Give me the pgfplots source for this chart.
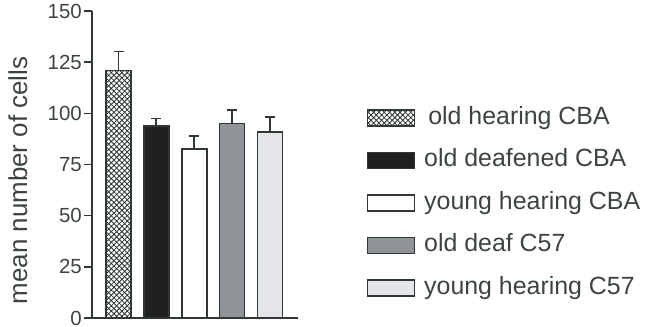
\documentclass[border=0pt]{standalone}
\usepackage{fontspec}
\setmainfont{Liberation Sans}
\usepackage{pgfplots}
\pgfplotsset{compat=1.18}
\usetikzlibrary{patterns}

\definecolor{txt}{RGB}{60,68,66}
\definecolor{edge}{RGB}{48,56,54}
\definecolor{darkbar}{RGB}{32,32,32}
\definecolor{midbar}{RGB}{143,148,153}
\definecolor{lightbar}{RGB}{228,229,233}

% diagonal cross-hatch with a 5.3bp period
\pgfdeclarepatternformonly{xhatch}{\pgfqpoint{-0.5bp}{-0.5bp}}{\pgfqpoint{5.8bp}{5.8bp}}{\pgfqpoint{5.3bp}{5.3bp}}{%
  \pgfsetlinewidth{0.8bp}%
  \pgfpathmoveto{\pgfqpoint{-0.5bp}{-0.5bp}}\pgfpathlineto{\pgfqpoint{5.8bp}{5.8bp}}%
  \pgfpathmoveto{\pgfqpoint{-0.5bp}{5.8bp}}\pgfpathlineto{\pgfqpoint{5.8bp}{-0.5bp}}%
  \pgfusepath{stroke}}

\begin{document}
\begin{tikzpicture}
\path[use as bounding box] (-92bp,-9bp) rectangle (555bp,318bp);
\begin{axis}[
  scale only axis,
  width=206bp, height=307bp,
  xmin=0.30, xmax=5.74,
  ymin=0, ymax=150,
  ybar, bar shift=0pt, bar width=0.66,
  axis x line=bottom, axis y line=left,
  axis line style={-, edge, line width=1.6bp},
  xtick=\empty,
  ytick={0,25,...,150},
  tick align=outside,
  major tick length=8bp,
  tick style={edge, line width=1.6bp},
  /pgf/number format/assume math mode=true,
  yticklabel style={font=\fontsize{20.5}{24}\selectfont, text=txt, inner xsep=2bp, inner ysep=0pt},
  ylabel={mean number of cells},
  ylabel style={at={(axis description cs:-0.3155,0.448)}, rotate=0, anchor=base,
    font=\fontsize{26}{30}\selectfont, text=txt},
  every axis plot/.append style={draw=edge, line width=1.6bp},
  error bars/y dir=plus, error bars/y explicit,
  error bars/error bar style={edge, line width=1.8bp},
  error bars/error mark options={edge, line width=1.6bp, mark size=5bp, rotate=90},
  legend image code/.code={\draw[#1, line width=1.2bp] (0bp,-8bp) rectangle (47bp,8bp);},
  legend cell align=left,
  legend style={draw=none, fill=none, inner sep=0pt, outer sep=0pt,
    at={(axis description cs:1.335,0.3746)}, anchor=west,
    font=\fontsize{25}{30}\selectfont, text=txt,
    nodes={inner sep=0pt, text height=18bp, text depth=5bp},
    /tikz/column sep=9bp, row sep=19.5bp},
]
\addplot[pattern=xhatch, pattern color=edge] coordinates {(1,121) +- (0,9.3)};
\addlegendentry{\,old hearing CBA}
\addplot[fill=darkbar] coordinates {(2,93.8) +- (0,3.6)};
\addlegendentry{old deafened CBA}
\addplot[fill=white] coordinates {(3,82.6) +- (0,6.2)};
\addlegendentry{young hearing CBA}
\addplot[fill=midbar] coordinates {(4,95.1) +- (0,6.5)};
\addlegendentry{old deaf C57}
\addplot[fill=lightbar] coordinates {(5,90.9) +- (0,7.3)};
\addlegendentry{young hearing C57}
\end{axis}
\end{tikzpicture}
\end{document}
